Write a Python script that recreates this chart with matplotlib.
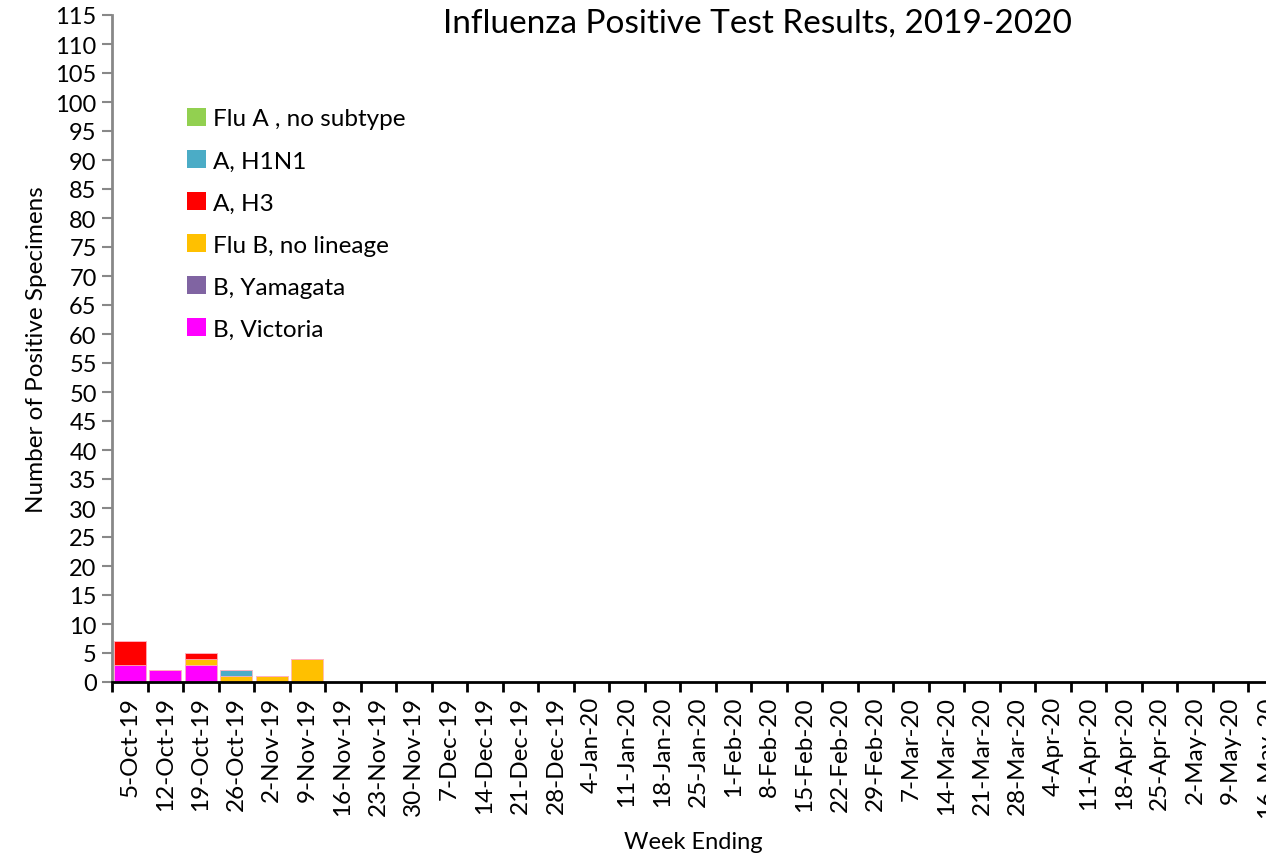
import numpy as np
import matplotlib.pyplot as plt
from matplotlib.patches import Patch

plt.rcParams['font.family'] = ['Lato', 'DejaVu Sans']

weeks = ['5-Oct-19', '12-Oct-19', '19-Oct-19', '26-Oct-19', '2-Nov-19', '9-Nov-19',
         '16-Nov-19', '23-Nov-19', '30-Nov-19', '7-Dec-19', '14-Dec-19', '21-Dec-19',
         '28-Dec-19', '4-Jan-20', '11-Jan-20', '18-Jan-20', '25-Jan-20', '1-Feb-20',
         '8-Feb-20', '15-Feb-20', '22-Feb-20', '29-Feb-20', '7-Mar-20', '14-Mar-20',
         '21-Mar-20', '28-Mar-20', '4-Apr-20', '11-Apr-20', '18-Apr-20', '25-Apr-20',
         '2-May-20', '9-May-20', '16-May-20']
n = len(weeks)

# counts per week (only the first six weeks have positives)
b_victoria = [3, 2, 3, 0, 0, 0] + [0] * (n - 6)
b_yamagata = [0, 0, 0, 0, 0, 0] + [0] * (n - 6)
flu_b      = [0, 0, 1, 1, 1, 4] + [0] * (n - 6)
a_h3       = [4, 0, 1, 0, 0, 0] + [0] * (n - 6)
a_h1n1     = [0, 0, 0, 1, 0, 0] + [0] * (n - 6)
flu_a      = [0, 0, 0, 0, 0, 0] + [0] * (n - 6)

series = [
    ('B, Victoria', b_victoria, '#FF00FF'),
    ('B, Yamagata', b_yamagata, '#8064A2'),
    ('Flu B, no lineage', flu_b, '#FFC000'),
    ('A, H3', a_h3, '#FF0000'),
    ('A, H1N1', a_h1n1, '#4BACC6'),
    ('Flu A , no subtype', flu_a, '#92D050'),
]

fig = plt.figure(figsize=(12.66, 8.54), dpi=100)
ax = fig.add_axes([112 / 1266, 171 / 854, 1172 / 1266, 667 / 854])

x = np.arange(n)
bottom = np.zeros(n)
for name, vals, col in series:
    vals = np.array(vals, dtype=float)
    ax.bar(x, vals, width=0.9, bottom=bottom, color=col,
           edgecolor='#ffb0c0', linewidth=0.5)
    bottom += vals

ax.set_xlim(-0.5, n - 0.5)
ax.set_ylim(0, 115)
ax.set_yticks(np.arange(0, 116, 5))
ax.tick_params(axis='y', labelsize=17, length=7, width=1.5, color='#888888', pad=4)

# ticks at category boundaries, labels centered
ax.set_xticks(x)
ax.set_xticklabels(weeks, rotation=90, fontsize=17.5)
ax.set_xticks(np.arange(-0.5, n, 1), minor=True)
ax.tick_params(axis='x', which='major', length=0, pad=10)
ax.tick_params(axis='x', which='minor', length=7, width=2, color='black')

for s in ['top', 'right']:
    ax.spines[s].set_visible(False)
ax.spines['left'].set_color('#888888')
ax.spines['left'].set_linewidth(2)
ax.spines['bottom'].set_color('black')
ax.spines['bottom'].set_linewidth(2)

ax.set_ylabel('Number of Positive Specimens', fontsize=17.5, labelpad=6)
fig.text(693 / 1266, 1 - 843 / 854, 'Week Ending', fontsize=17, ha='center', va='center')
fig.text(757 / 1266, 1 - 24 / 854, 'Influenza Positive Test Results, 2019-2020',
         fontsize=24, ha='center', va='center')

handles = [Patch(facecolor=col, edgecolor='none', label=name)
           for name, vals, col in reversed(series)]
ax.legend(handles=handles, loc='upper left', bbox_to_anchor=(0.056, 0.875),
          frameon=False, fontsize=17.5, handlelength=0.75, handleheight=0.75,
          handletextpad=0.3, labelspacing=0.85, borderaxespad=0)

fig.savefig('out.png', dpi=100)
